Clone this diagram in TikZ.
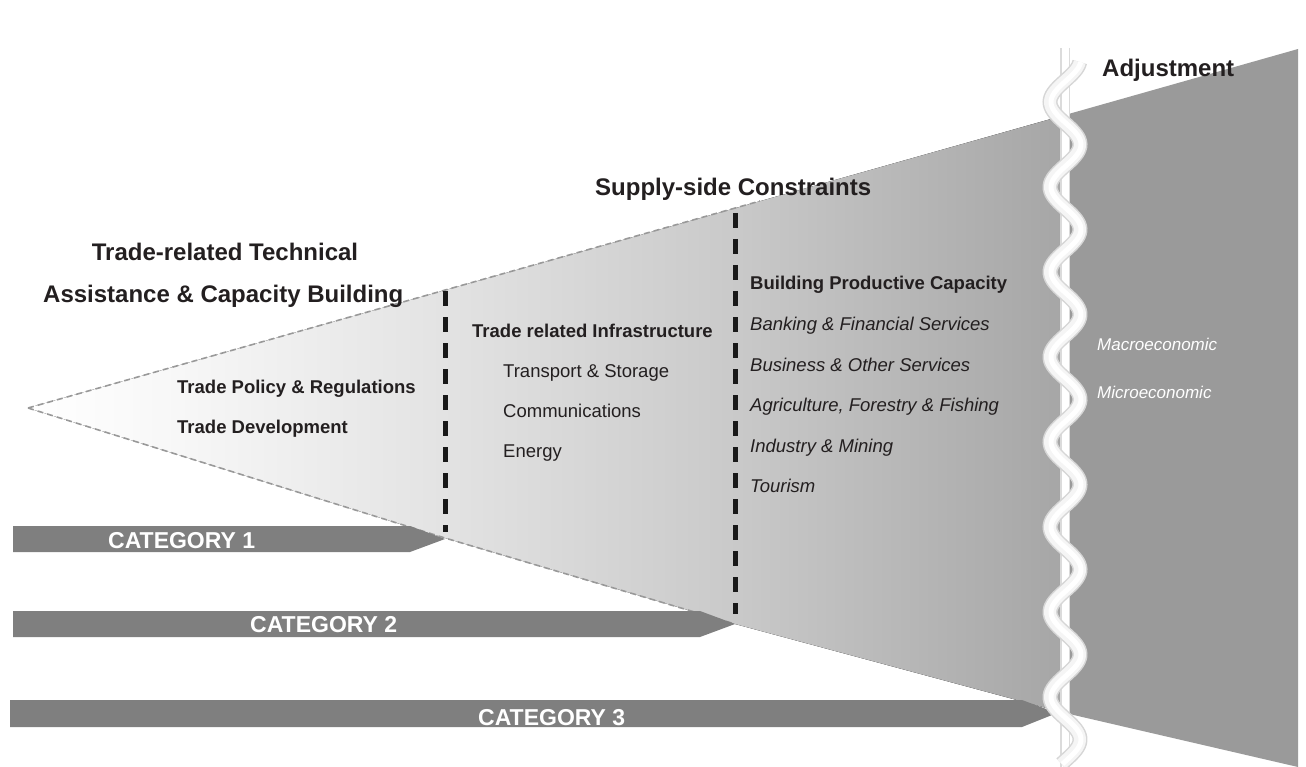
\documentclass[tikz,border=0pt]{standalone}
\usepackage{fontspec}
\setmainfont{Liberation Sans}
\definecolor{txt}{HTML}{231F20}
\definecolor{catgray}{HTML}{7F7F7F}
\definecolor{rightgray}{HTML}{9A9A9A}
\pgfdeclarehorizontalshading{funnelshade}{100bp}{color(0bp)=(white); color(25bp)=(white); color(32bp)=(white!97!black); color(45bp)=(white!89!black); color(59bp)=(white!79!black); color(75bp)=(white!65!black); color(100bp)=(white!65!black)}
\tikzset{
  head/.style={font=\fontsize{24}{28}\selectfont\bfseries, text=txt, inner sep=0pt, anchor=base west},
  itembold/.style={font=\fontsize{18.5}{22}\selectfont\bfseries, text=txt, inner sep=0pt, anchor=base west},
  itemreg/.style={font=\fontsize{18.5}{22}\selectfont, text=txt, inner sep=0pt, anchor=base west},
  itemit/.style={font=\fontsize{18.5}{22}\selectfont\itshape, text=txt, inner sep=0pt, anchor=base west},
  whiteit/.style={font=\fontsize{17}{20}\selectfont\itshape, text=white, inner sep=0pt, anchor=base west},
  cattext/.style={font=\fontsize{23}{26}\selectfont\bfseries, text=white, inner sep=0pt, anchor=base west},
  catbar/.style={fill=catgray},
  dashline/.style={draw=black!90, line width=5pt, dash pattern=on 15pt off 11pt},
  edgedash/.style={draw=black!40, line width=1.6pt, dash pattern=on 6pt off 4pt},
}
\begin{document}
\begin{tikzpicture}[x=1pt,y=-1pt]
\useasboundingbox (0,0) rectangle (1306,767);
% funnel
\coordinate (tip) at (28,408);
\coordinate (l1) at (445,538);
\coordinate (l2) at (735,624);
\coordinate (l3) at (1065,713);
\coordinate (u3) at (1065,115);
\fill[shading=funnelshade] (tip) -- (u3) -- (l3) -- (l2) -- (l1) -- cycle;
\fill[rightgray] (u3) -- (1298,49) -- (1298,767) -- (l3) -- cycle;
% faint dashed borders
\coordinate (ue) at (760,201);
\draw[edgedash] (tip) -- (ue);
\draw[edgedash] (tip) -- (l1) -- (l2);
% dashed separators
\coordinate (d1t) at (445,291);
\coordinate (d1b) at (445,532);
\coordinate (d2t) at (735,213);
\coordinate (d2b) at (735,614);
\draw[dashline] (d1t) -- (d1b);
\draw[dashline] (d2t) -- (d2b);
% category arrows
\fill[catbar] (13,526) -- (410,526) -- (445,539) -- (410,552) -- (13,552) -- cycle;
\fill[catbar] (13,611) -- (700,611) -- (735,624) -- (700,637) -- (13,637) -- cycle;
\fill[catbar] (10,700) -- (1022,700) -- (1057,713) -- (1022,727) -- (10,727) -- cycle;
\node[cattext] (c1) at (108,548) {CATEGORY 1};
\node[cattext] (c2) at (250,632) {CATEGORY 2};
\node[cattext] (c3) at (478,725) {CATEGORY 3};
% wave
\coordinate (wt) at (1065,48);
\coordinate (wb) at (1065,767);
\draw[line width=10pt, black!14] (wt) -- (wb);
\draw[line width=7pt, white] (wt) -- (wb);
\draw[line width=15pt, black!16] plot[domain=62:764, samples=300, variable=\t] ({1065-15*sin((\t-102)/85*360+90)}, \t);
\draw[line width=12pt, white!96!black] plot[domain=62:764, samples=300, variable=\t] ({1065-15*sin((\t-102)/85*360+90)}, \t);
\draw[line width=5pt, white] plot[domain=62:764, samples=300, variable=\t] ({1066-15*sin((\t-102)/85*360+90)}, \t);
% headings
\node[head, anchor=base] (h1) at (225,261) {Trade-related Technical};
\node[head] (h2) at (43,302) {Assistance \& Capacity Building};
\node[head] (h3) at (595,196) {Supply-side Constraints};
\node[head] (h4) at (1102,77) {Adjustment};
% column 1
\node[itembold] (a1) at (177,393) {Trade Policy \& Regulations};
\node[itembold] (a2) at (177,433) {Trade Development};
% column 2
\node[itembold] (b0) at (472,337) {Trade related Infrastructure};
\node[itemreg] (b1) at (503,377) {Transport \& Storage};
\node[itemreg] (b2) at (503,417) {Communications};
\node[itemreg] (b3) at (503,457) {Energy};
% column 3
\node[itembold] (p0) at (750,290) {Building Productive Capacity};
\node[itemit] (p1) at (750,330.5) {Banking \& Financial Services};
\node[itemit] (p2) at (750,371) {Business \& Other Services};
\node[itemit] (p3) at (750,411.5) {Agriculture, Forestry \& Fishing};
\node[itemit] (p4) at (750,452) {Industry \& Mining};
\node[itemit] (p5) at (750,492.5) {Tourism};
% column 4
\node[whiteit] (m1) at (1097,350) {Macroeconomic};
\node[whiteit] (m2) at (1097,398) {Microeconomic};
\end{tikzpicture}
\end{document}
